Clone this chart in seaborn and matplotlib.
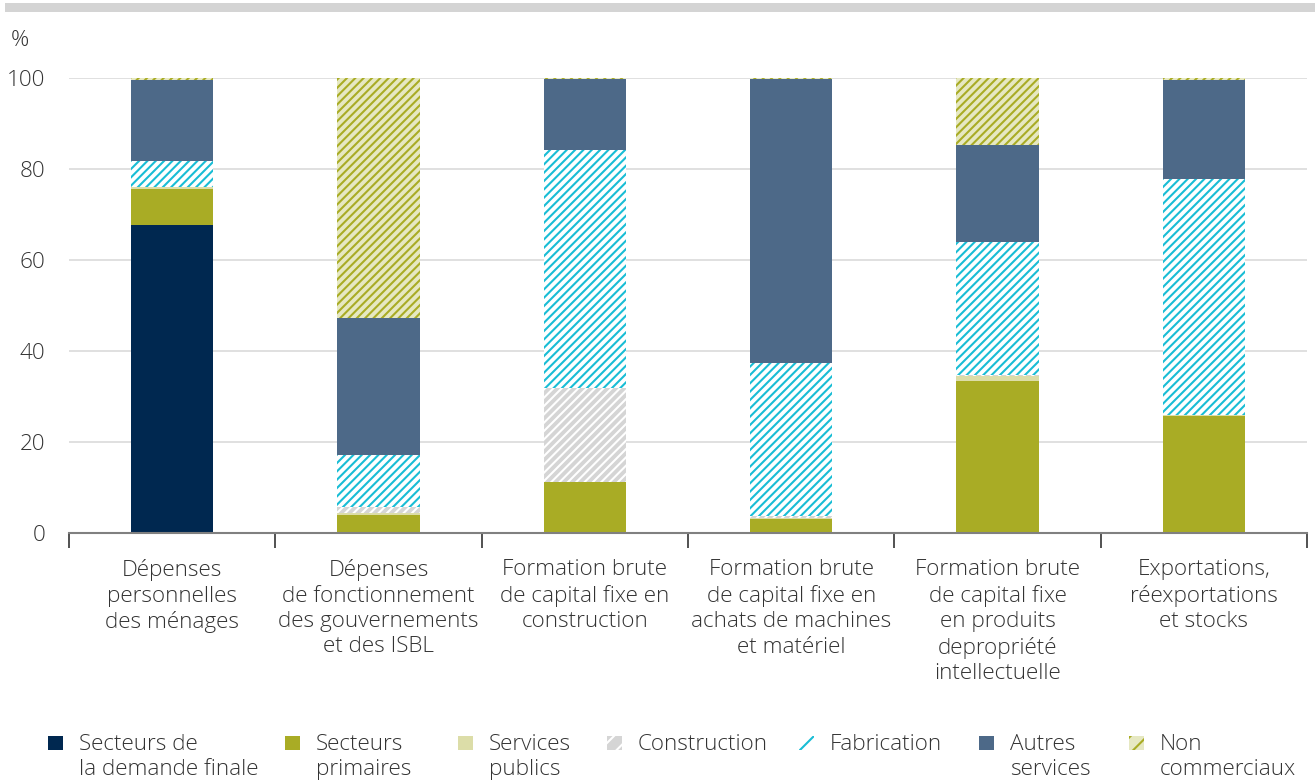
import numpy as np
import pandas as pd
import matplotlib
matplotlib.use("Agg")
import matplotlib.pyplot as plt
from matplotlib.patches import Rectangle
import seaborn as sns

# ---------------- data ----------------
categories = [
    "Dépenses\npersonnelles\ndes ménages",
    "Dépenses\nde fonctionnement\ndes gouvernements\net des ISBL",
    "Formation brute\nde capital fixe en\nconstruction",
    "Formation brute\nde capital fixe en\nachats de machines\net matériel",
    "Formation brute\nde capital fixe\nen produits\ndepropriété\nintellectuelle",
    "Exportations,\nréexportations\net stocks",
]
series_names = [
    "Secteurs de\nla demande finale",
    "Secteurs\nprimaires",
    "Services\npublics",
    "Construction",
    "Fabrication",
    "Autres\nservices",
    "Non\ncommerciaux",
]
demande_finale = [67.8, 0.0, 0.0, 0.0, 0.0, 0.0]
primaires = [7.8, 3.9, 11.1, 3.1, 33.5, 25.7]
services_publics = [0.4, 0.6, 0.0, 0.3, 0.9, 0.3]
construction = [0.0, 1.3, 20.8, 0.3, 0.3, 0.0]
fabrication = [5.8, 11.3, 52.3, 33.6, 29.2, 51.9]
autres_services = [17.7, 30.2, 15.5, 62.4, 21.4, 21.7]
non_commerciaux = [0.5, 52.6, 0.3, 0.3, 14.7, 0.4]
yticks = [0, 20, 40, 60, 80, 100]

series = [demande_finale, primaires, services_publics, construction,
          fabrication, autres_services, non_commerciaux]

# style: (facecolor, hatchcolor, hatch)
styles = [
    ("#002850", None, None),
    ("#A9AC25", None, None),
    ("#DCDDA8", None, None),
    ("#D5D5D5", "#FFFFFF", "////"),
    ("#FFFFFF", "#19BDD5", "////"),
    ("#4D6988", None, None),
    ("#E6E8C2", "#A9AC25", "////"),
]

# ---------------- theme ----------------
sns.set_theme(style="white")
plt.rcParams["font.family"] = ["Open Sans", "DejaVu Sans"]
plt.rcParams["hatch.linewidth"] = 1.5

W, H = 1315, 783
fig = plt.figure(figsize=(W / 100, H / 100), dpi=100)
ax = fig.add_axes([69 / W, 1 - 533 / H, (1307 - 69) / W, (533 - 78) / H])

# grid lines
for yv in yticks[1:]:
    ax.axhline(yv, color="#E0E0E0", lw=1.4, zorder=0)

cum = np.cumsum(np.array(series, dtype=float), axis=0)
x = list(range(len(categories)))
for i in range(len(series) - 1, -1, -1):
    face, hcol, hatch = styles[i]
    n_before = len(ax.patches)
    df = pd.DataFrame({"cat": x, "val": cum[i]})
    sns.barplot(data=df, x="cat", y="val", color=face, saturation=1,
                width=0.4, ax=ax, linewidth=0, native_scale=True)
    for p in ax.patches[n_before:]:
        p.set_facecolor(face)
        p.set_linewidth(0)
        p.set_zorder(2)
        if hatch:
            p.set_hatch(hatch)
            p.set_edgecolor(hcol)
        else:
            p.set_edgecolor(face)

ax.set_xlim(-0.5, 5.5)
ax.set_ylim(0, 100)
ax.set_xlabel("")
ax.set_ylabel("")

FS = 16.2
LS = 1.27
ax.set_xticks(x)
ax.set_xticklabels(categories, fontsize=FS, color="#333333", fontweight="light",
                   linespacing=LS, va="top")
ax.set_xticks([v - 0.5 for v in range(len(categories) + 1)], minor=True)
ax.tick_params(axis="x", which="major", length=0, pad=19)
ax.tick_params(axis="x", which="minor", length=11, width=1.2, color="#333333",
               direction="out", bottom=True)
ax.set_yticks(yticks)
ax.set_yticklabels([str(v) for v in yticks], fontsize=FS, color="#333333",
                   fontweight="light")
ax.tick_params(axis="y", length=0, pad=17)

for s in ["top", "right", "left"]:
    ax.spines[s].set_visible(False)
ax.spines["bottom"].set_color("#808080")
ax.spines["bottom"].set_linewidth(1.5)
ax.spines["bottom"].set_zorder(5)

# top gray band
fig.add_artist(Rectangle((5 / W, 1 - 12 / H), (W - 5) / W, 9 / H,
                         transform=fig.transFigure, facecolor="#D4D4D4",
                         edgecolor="none"))
# unit label
fig.text(11 / W, 1 - 41 / H, "%", fontsize=FS, color="#333333",
         fontweight="light", va="center", ha="left")

# legend (manual)
leg_x = [48, 285, 458, 607, 799, 979, 1129]
for (face, hcol, hatch), name, lx in zip(styles, series_names, leg_x):
    r = Rectangle((lx / W, 1 - 750 / H), 15 / W, 14 / H,
                  transform=fig.transFigure, facecolor=face,
                  edgecolor=hcol if hcol else face, lw=0,
                  hatch=("//" if hatch else None))
    fig.add_artist(r)
    fig.text((lx + 31) / W, 1 - 734 / H, name, fontsize=FS, color="#333333",
             fontweight="light", va="top", ha="left", linespacing=LS)

fig.savefig("out.png", dpi=100)
